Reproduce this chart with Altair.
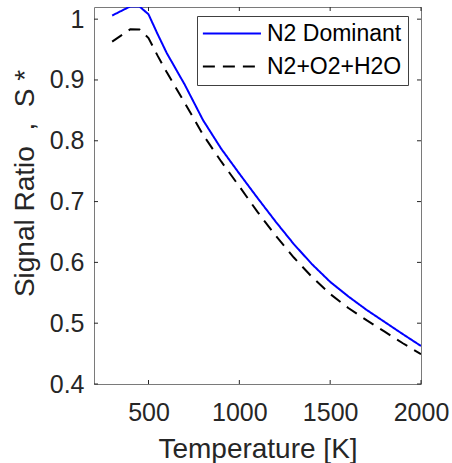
import altair as alt
import pandas as pd

# ---- data ----
temperature = [300, 400, 450, 500, 550, 600, 700, 800, 900, 1000,
               1100, 1200, 1300, 1400, 1500, 1600, 1700, 1800, 1900, 2000]
n2_dominant = [1.006, 1.021, 1.021, 1.008, 0.9755, 0.9445, 0.892, 0.834, 0.787, 0.746,
               0.706, 0.667, 0.630, 0.597, 0.568, 0.544, 0.522, 0.502, 0.482, 0.4625]
n2_o2_h2o = [0.963, 0.9835, 0.983, 0.969, 0.940, 0.913, 0.862, 0.810, 0.766, 0.725,
             0.683, 0.644, 0.608, 0.576, 0.548, 0.525, 0.505, 0.486, 0.467, 0.449]
series_names = ["N2 Dominant", "N2+O2+H2O"]
x_ticks = [500, 1000, 1500, 2000]
y_ticks = [0.4, 0.5, 0.6, 0.7, 0.8, 0.9, 1.0]

rows = []
for name, vals in zip(series_names, [n2_dominant, n2_o2_h2o]):
    for t, v in zip(temperature, vals):
        rows.append({"T": t, "S": v, "series": name, "order": t})
df = pd.DataFrame(rows)

W, H = 327, 377
FONT = "Liberation Sans"
TXT = "#262626"
NB = "\u00a0"
X_TITLE = "Temperature [K]"
Y_TITLE = "Signal Ratio" + NB * 2 + "," + NB * 2 + "S" + NB + "*"

xscale = alt.Scale(domain=[200, 2000], nice=False, zero=False)
yscale = alt.Scale(domain=[0.4, 1.02], nice=False, zero=False)

x_axis = alt.Axis(values=x_ticks, format="d", title=X_TITLE,
                  labelPadding=16, labelFlush=False,
                  titleY=73, titleBaseline="alphabetic")
y_axis = alt.Axis(values=y_ticks, format=".1~f", title=Y_TITLE,
                  labelPadding=10,
                  titleX=-61, titleY=176, titleBaseline="alphabetic")

lines = alt.Chart(df).mark_line(strokeWidth=2, clip=True).encode(
    x=alt.X("T:Q", scale=xscale, axis=x_axis, title=X_TITLE),
    y=alt.Y("S:Q", scale=yscale, axis=y_axis, title=Y_TITLE),
    color=alt.Color("series:N",
                    scale=alt.Scale(domain=series_names, range=["#0000ff", "#000000"]),
                    legend=alt.Legend(title=None)),
    strokeDash=alt.StrokeDash("series:N",
                              scale=alt.Scale(domain=series_names, range=[[1, 0], [12, 8]]),
                              legend=alt.Legend(title=None)),
    order="order:Q",
)

xt = pd.DataFrame({"t": x_ticks})
yt = pd.DataFrame({"v": y_ticks})
tick_style = dict(color=TXT, strokeWidth=1)
xb = alt.Chart(xt).mark_rule(**tick_style).encode(
    x=alt.X("t:Q", scale=xscale, axis=x_axis, title=X_TITLE),
    y=alt.value(H), y2=alt.value(H - 4))
xtop = alt.Chart(xt).mark_rule(**tick_style).encode(
    x=alt.X("t:Q", scale=xscale, axis=x_axis, title=X_TITLE),
    y=alt.value(0), y2=alt.value(4))
yl = alt.Chart(yt).mark_rule(**tick_style).encode(
    y=alt.Y("v:Q", scale=yscale, axis=y_axis, title=Y_TITLE),
    x=alt.value(0), x2=alt.value(4))
yr = alt.Chart(yt).mark_rule(**tick_style).encode(
    y=alt.Y("v:Q", scale=yscale, axis=y_axis, title=Y_TITLE),
    x=alt.value(W), x2=alt.value(W - 4))

chart = alt.layer(lines, xb, xtop, yl, yr).properties(
    width=W, height=H,
    autosize=alt.AutoSizeParams(type="none"),
    padding={"left": 94, "top": 7, "right": 31, "bottom": 79},
    background="white",
).configure_view(
    stroke="#7a7a7a", strokeWidth=1
).configure_axis(
    domain=False, ticks=False, tickSize=0, grid=False,
    labelFont=FONT, labelFontSize=25, labelColor=TXT,
    titleFont=FONT, titleFontSize=28, titleFontWeight="normal", titleColor=TXT,
).configure_legend(
    orient="none", legendX=103, legendY=9,
    padding=6, fillColor="white", strokeColor="#404040", strokeWidth=1,
    symbolType="M-2,0H8", symbolSize=135, symbolStrokeWidth=2,
    labelFont=FONT, labelFontSize=23, labelColor="#000000",
    labelOffset=41, rowPadding=9, cornerRadius=0,
)

chart.save("out.html", embed_options={"renderer": "svg", "actions": False})
